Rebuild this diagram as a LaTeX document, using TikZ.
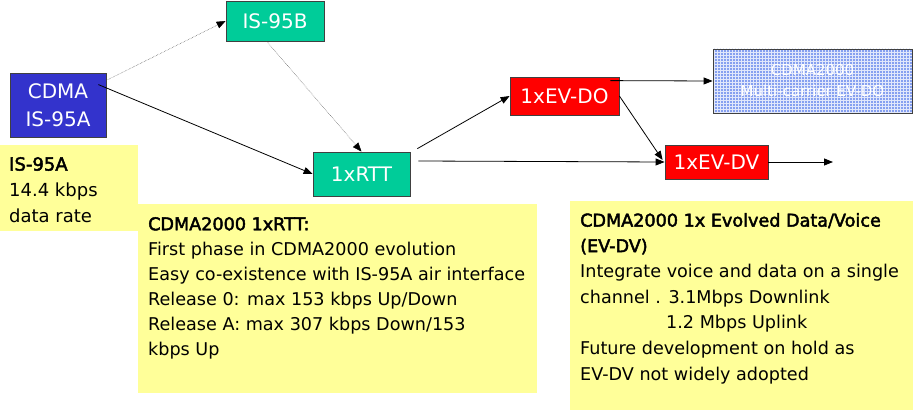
\documentclass[tikz,border=0pt]{standalone}
\usepackage{fontspec}
\setmainfont{DejaVu Sans}
\newfontfamily\headfont{DejaVu Sans}[FakeBold=2.5]
\usetikzlibrary{arrows.meta, patterns, positioning}
\definecolor{cdmablue}{HTML}{3333CC}
\definecolor{isgreen}{HTML}{00CC99}
\definecolor{evred}{HTML}{FF0000}
\definecolor{mcblue}{HTML}{86A0F0}
\definecolor{noteyellow}{HTML}{FFFF99}

\begin{document}
\begin{tikzpicture}[x=1pt, y=-1pt,
  stage/.style={draw=black!75, line width=0.8pt, text=white, align=center, inner sep=0pt,
    font=\fontsize{20}{28}\selectfont},
  note/.style={fill=noteyellow, inner sep=0pt, anchor=north west},
  notetext/.style={anchor=north west, inner sep=0pt, align=left, font=\fontsize{17.6}{25}\selectfont},
  evo/.style={-{Triangle[length=9pt,width=7pt]}, line width=0.8pt},
  opt/.style={-{Triangle[length=9pt,width=7pt,color=black]}, densely dotted, line width=0.5pt, black!70}]
\useasboundingbox (0,0) rectangle (915,412);

% technology stages
\node[stage, fill=cdmablue, minimum width=96, minimum height=64] (cdma) at (58,105) {CDMA\\IS-95A};
\node[stage, fill=isgreen, minimum width=98, minimum height=40] (is95b) at (275,21) {IS-95B};
\node[stage, fill=isgreen, minimum width=97, minimum height=44] (rtt) at (361.5,174) {1xRTT};
\node[stage, fill=evred, minimum width=109, minimum height=38] (evdo) at (564.5,96) {1xEV-DO};
\node[stage, fill=evred, minimum width=103, minimum height=34] (evdv) at (716.5,162) {1xEV-DV};
\node[stage, preaction={fill=mcblue}, pattern=grid, pattern color=white!75!mcblue,
  minimum width=199, minimum height=64, font=\fontsize{15}{21}\selectfont] (mc) at (812.5,81)
  {CDMA2000\\Multi-carrier EV-DO};
\coordinate (dvnext) at (833,162);

% notes
\node[note, minimum width=138, minimum height=86] (n95a) at (0,145) {};
\node[notetext, font=\fontsize{18}{26}\selectfont] (t95a) at ([shift={(9,12)}]n95a.north west)
  {{\headfont IS-95A}\\14.4 kbps\\data rate};
\node[note, minimum width=399, minimum height=189] (nrtt) at (138,204) {};
\node[notetext] (trtt) at ([shift={(10,13)}]nrtt.north west)
  {{\headfont CDMA2000 1xRTT:}\\First phase in CDMA2000 evolution\\Easy co-existence with IS-95A air interface\\Release 0: max 153 kbps Up/Down\\Release A: max 307 kbps Down/153\\kbps Up};
\node[note, minimum width=343, minimum height=209] (ndv) at (570,201) {};
\node[notetext, font=\fontsize{17.6}{25.6}\selectfont] (tdv) at ([shift={(10,12)}]ndv.north west)
  {{\headfont CDMA2000 1x Evolved Data/Voice}\\{\headfont (EV-DV)}\\Integrate voice and data on a single\\channel . 3.1Mbps Downlink\\\hspace*{86pt}1.2 Mbps Uplink\\Future development on hold as\\EV-DV not widely adopted};

% evolution paths
\draw[opt] (cdma.27.5) -- (is95b.west);
\draw[opt] (is95b.248) -- (rtt.north);
\draw[evo] ([shift={(-8,12)}]cdma.north east) -- (rtt.west);
\draw[evo] ([shift={(7,-3)}]rtt.north east) -- (evdo.west);
\draw[evo] ([shift={(8,-13)}]rtt.east) -- (evdv.west);
\draw[evo] (evdo.east) -- ([shift={(-2,-2)}]evdv.west);
\draw[evo] ([shift={(-9,4)}]evdo.north east) -- (mc.west);
\draw[evo] (evdv.east) -- (dvnext);
\end{tikzpicture}
\end{document}
